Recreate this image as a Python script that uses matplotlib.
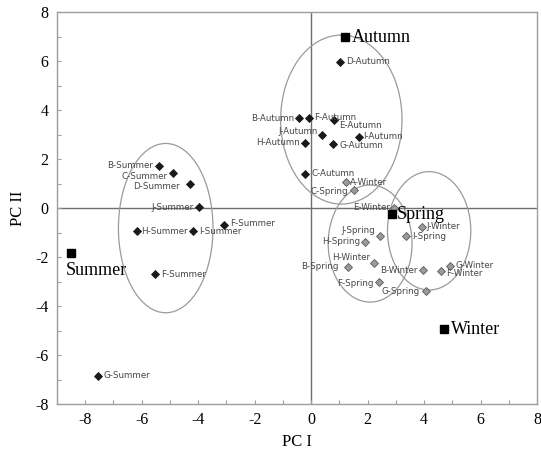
import matplotlib
matplotlib.use("Agg")
import matplotlib.pyplot as plt
from matplotlib.patches import Ellipse
from matplotlib.ticker import MultipleLocator

plt.rcParams['axes.unicode_minus'] = False

# sample scores on the first two principal components
summer_names = ['B-Summer', 'C-Summer', 'D-Summer', 'J-Summer', 'F-Summer',
                'H-Summer', 'I-Summer', 'F-Summer', 'G-Summer']
summer_x = [-5.39, -4.89, -4.29, -3.96, -3.07, -6.18, -4.18, -5.52, -7.56]
summer_y = [1.73, 1.41, 0.98, 0.03, -0.68, -0.94, -0.94, -2.71, -6.84]

autumn_names = ['D-Autumn', 'B-Autumn', 'F-Autumn', 'E-Autumn', 'J-Autumn',
                'H-Autumn', 'G-Autumn', 'I-Autumn', 'C-Autumn']
autumn_x = [1.03, -0.43, -0.08, 0.80, 0.37, -0.20, 0.79, 1.71, -0.20]
autumn_y = [5.96, 3.67, 3.69, 3.60, 3.00, 2.67, 2.60, 2.89, 1.39]

spring_names = ['C-Spring', 'J-Spring', 'H-Spring', 'I-Spring', 'B-Spring',
                'F-Spring', 'G-Spring']
spring_x = [1.51, 2.45, 1.91, 3.37, 1.32, 2.41, 4.08]
spring_y = [0.75, -1.13, -1.37, -1.13, -2.42, -3.03, -3.39]

winter_names = ['A-Winter', 'E-Winter', 'J-Winter', 'H-Winter', 'B-Winter',
                'G-Winter', 'F-Winter']
winter_x = [1.22, 2.92, 3.92, 2.21, 3.96, 4.93, 4.61]
winter_y = [1.05, 0.01, -0.79, -2.26, -2.53, -2.37, -2.57]

# season means
season_names = ['Autumn', 'Spring', 'Summer', 'Winter']
season_x = [1.20, 2.87, -8.51, 4.72]
season_y = [6.98, -0.25, -1.85, -4.94]

# confidence ellipses: centre, width, height (order summer, autumn, spring, winter)
ell_cx = [-5.15, 1.07, 2.09, 4.18]
ell_cy = [-0.82, 3.61, -1.45, -0.93]
ell_w = [3.35, 4.30, 2.97, 2.95]
ell_h = [6.91, 6.90, 4.78, 4.83]

# label placement: text offset in points and alignment
label_pos = {
    'B-Summer': (-4, 0, 'right'), 'C-Summer': (-4, -2, 'right'),
    'D-Summer': (-7, -1.5, 'right'), 'J-Summer': (-4, 0, 'right'),
    'H-Summer': (3.5, 0, 'left'), 'I-Summer': (4, 0, 'left'),
    'G-Summer': (4, 0, 'left'),
    'D-Autumn': (4.5, 0, 'left'), 'B-Autumn': (-3.5, 0, 'right'),
    'F-Autumn': (4, 0, 'left'), 'E-Autumn': (4, -4, 'left'),
    'J-Autumn': (-3, 2.5, 'right'), 'H-Autumn': (-4, 0, 'right'),
    'G-Autumn': (4.5, -0.5, 'left'), 'I-Autumn': (2.5, 0.5, 'left'),
    'C-Autumn': (4, 0, 'left'),
    'C-Spring': (-4, -1.5, 'right'), 'J-Spring': (-4, 3.5, 'right'),
    'H-Spring': (-3.5, 0, 'right'), 'I-Spring': (4, -0.5, 'left'),
    'B-Spring': (-7, 0.5, 'right'), 'F-Spring': (-4, -1, 'right'),
    'G-Spring': (-4.5, 0, 'right'),
    'A-Winter': (3.5, 0, 'left'), 'E-Winter': (-2.5, 0, 'right'),
    'J-Winter': (3, 0.5, 'left'), 'H-Winter': (-2.5, 4, 'right'),
    'B-Winter': (-4, 0, 'right'), 'G-Winter': (3.5, 0.5, 'left'),
    'F-Winter': (3.5, -2, 'left'),
}
fsummer_pos = [(4, 0.5, 'left'), (4, 0, 'left')]

fig = plt.figure(figsize=(5.41, 4.62), dpi=100)
ax = fig.add_axes([0.1054, 0.1255, 0.8872, 0.8485])
ax.set_xlim(-9, 8)
ax.set_ylim(-8, 8)

grey = '#9e9e9e'
ax.axhline(0, color='#6e6e6e', lw=1.0, zorder=1)
ax.axvline(0, color='#6e6e6e', lw=1.0, zorder=1)

for cx, cy, w, h in zip(ell_cx, ell_cy, ell_w, ell_h):
    ax.add_patch(Ellipse((cx, cy), w, h, fill=False, edgecolor='#9a9a9a',
                         lw=0.9, zorder=2))

groups = [
    (summer_names, summer_x, summer_y, '#1a1a1a', '#1a1a1a'),
    (autumn_names, autumn_x, autumn_y, '#1a1a1a', '#1a1a1a'),
    (spring_names, spring_x, spring_y, '#9a9a9a', '#5a5a5a'),
    (winter_names, winter_x, winter_y, '#9a9a9a', '#5a5a5a'),
]
fs_count = 0
for names, xs, ys, fc, ec in groups:
    ax.plot(xs, ys, linestyle='none', marker='D', ms=4.2, mfc=fc, mec=ec,
            mew=0.6, zorder=3)
    for n, x, y in zip(names, xs, ys):
        if n == 'F-Summer':
            dx, dy, ha = fsummer_pos[fs_count]
            fs_count += 1
        else:
            dx, dy, ha = label_pos[n]
        ax.annotate(n, (x, y), xytext=(dx, dy), textcoords='offset points',
                    ha=ha, va='center', fontsize=6.3, color='#474747',
                    family='DejaVu Sans', zorder=4)

ax.plot(season_x, season_y, linestyle='none', marker='s', ms=5.5,
        color='black', zorder=5)
season_text = {'Autumn': (5, 0, 'left', 'center'),
               'Spring': (3.5, -0.5, 'left', 'center'),
               'Summer': (-4, -12.5, 'left', 'center'),
               'Winter': (5, 0, 'left', 'center')}
for n, x, y in zip(season_names, season_x, season_y):
    dx, dy, ha, va = season_text[n]
    ax.annotate(n, (x, y), xytext=(dx, dy), textcoords='offset points',
                ha=ha, va=va, fontsize=13, family='Liberation Serif',
                color='black', zorder=6)

for s in ax.spines.values():
    s.set_color(grey)
    s.set_linewidth(1.0)

ax.xaxis.set_major_locator(MultipleLocator(2))
ax.xaxis.set_minor_locator(MultipleLocator(1))
ax.yaxis.set_major_locator(MultipleLocator(2))
ax.yaxis.set_minor_locator(MultipleLocator(1))
ax.tick_params(which='both', direction='in', length=3, width=0.8, color=grey)
ax.tick_params(which='major', labelsize=11.5, pad=6)
for lab in ax.get_xticklabels() + ax.get_yticklabels():
    lab.set_family('Liberation Serif')

ax.set_xlabel('PC I', fontsize=12, family='Liberation Serif', labelpad=4)
ax.set_ylabel('PC II', fontsize=12, family='Liberation Serif', labelpad=7)

fig.savefig('out.png', dpi=100)
